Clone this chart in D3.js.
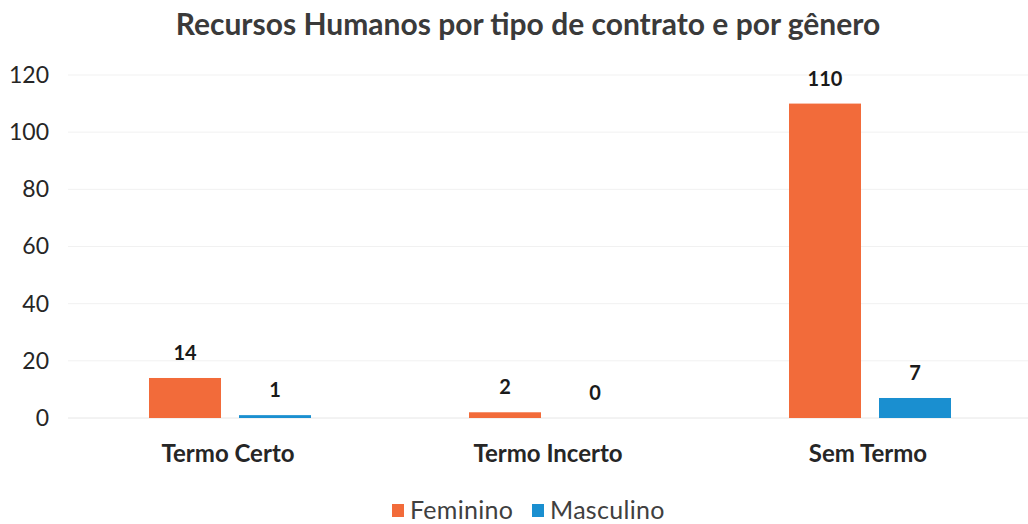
<!DOCTYPE html>
<html>
<head>
<meta charset="utf-8">
<script src="https://cdn.jsdelivr.net/npm/d3@7"></script>
<style>
  body { margin: 0; background: #fff; }
  text { font-family: Lato, "Open Sans", sans-serif; fill: #262626; }
</style>
</head>
<body>
<div id="chart"></div>
<script>
// chart data
var categories = ["Termo Certo", "Termo Incerto", "Sem Termo"];
var seriesNames = ["Feminino", "Masculino"];
var feminino = [14, 2, 110];
var masculino = [1, 0, 7];
var yTicks = [0, 20, 40, 60, 80, 100, 120];
var colors = ["#f26b3a", "#1a8fd0"];

var W = 1028, H = 524;
var margin = {top: 75, right: 0, bottom: 106, left: 68};
var width = W - margin.left - margin.right,
    height = H - margin.top - margin.bottom;

var svg = d3.select("#chart")
  .append("svg")
    .attr("width", W)
    .attr("height", H);

// title
svg.append("text")
  .attr("x", 528)
  .attr("y", 35)
  .attr("text-anchor", "middle")
  .style("font-size", "30px")
  .style("font-weight", "bold")
  .style("fill", "#3a3a3a")
  .text("Recursos Humanos por tipo de contrato e por gênero");

var g = svg.append("g")
  .attr("transform", "translate(" + margin.left + "," + margin.top + ")");

var y = d3.scaleLinear()
  .domain([0, 120])
  .range([height, 0]);

var x0 = d3.scaleBand()
  .domain(categories)
  .range([0, width]);

var x1 = d3.scaleBand()
  .domain(seriesNames)
  .range([81, 81 + 162])
  .paddingInner(0.2);

// gridlines
g.selectAll(".grid")
  .data(yTicks)
  .enter()
  .append("line")
    .attr("x1", 0)
    .attr("x2", width)
    .attr("y1", function(d) { return y(d); })
    .attr("y2", function(d) { return y(d); })
    .style("stroke", function(d) { return d === 0 ? "#e6e6e6" : "#f1f1f1"; })
    .style("stroke-width", 1);

// y axis
var yAxis = g.append("g")
  .attr("transform", "translate(-16,0)")
  .call(d3.axisLeft(y).tickValues(yTicks).tickSize(0));
yAxis.select(".domain").remove();
yAxis.selectAll("text")
  .style("font-size", "23px")
  .style("fill", "#262626");

// x axis
var xAxis = g.append("g")
  .attr("transform", "translate(0," + height + ")")
  .call(d3.axisBottom(x0).tickSize(0).tickPadding(27));
xAxis.select(".domain").remove();
xAxis.selectAll("text")
  .style("font-size", "24px")
  .style("font-weight", "bold")
  .style("fill", "#262626");

// bars
var rows = categories.map(function(c, i) {
  return {cat: c, values: [
    {name: seriesNames[0], value: feminino[i]},
    {name: seriesNames[1], value: masculino[i]}
  ]};
});

var groups = g.selectAll(".grp")
  .data(rows)
  .enter()
  .append("g")
    .attr("transform", function(d) { return "translate(" + x0(d.cat) + ",0)"; });

groups.selectAll("rect")
  .data(function(d) { return d.values; })
  .enter()
  .append("rect")
    .attr("x", function(d) { return x1(d.name); })
    .attr("y", function(d) { return y(d.value); })
    .attr("width", x1.bandwidth())
    .attr("height", function(d) { return Math.max(0, height - y(d.value)); })
    .style("fill", function(d, i) { return colors[i]; });

groups.selectAll(".lbl")
  .data(function(d) { return d.values; })
  .enter()
  .append("text")
    .attr("x", function(d) { return x1(d.name) + x1.bandwidth() / 2; })
    .attr("y", function(d) { return y(d.value) - 18; })
    .attr("text-anchor", "middle")
    .style("font-size", "20px")
    .style("font-weight", "bold")
    .style("fill", "#1a1a1a")
    .text(function(d) { return d.value; });

// legend
var legend = svg.append("g").attr("transform", "translate(392,502)");
var legX = [0, 140];
seriesNames.forEach(function(s, i) {
  legend.append("rect")
    .attr("x", legX[i])
    .attr("y", 2)
    .attr("width", 12)
    .attr("height", 13)
    .style("fill", colors[i]);
  legend.append("text")
    .attr("x", legX[i] + 18)
    .attr("y", 17)
    .style("font-size", "25px")
    .style("letter-spacing", "0.3px")
    .style("fill", "#404040")
    .text(s);
});
</script>
</body>
</html>
